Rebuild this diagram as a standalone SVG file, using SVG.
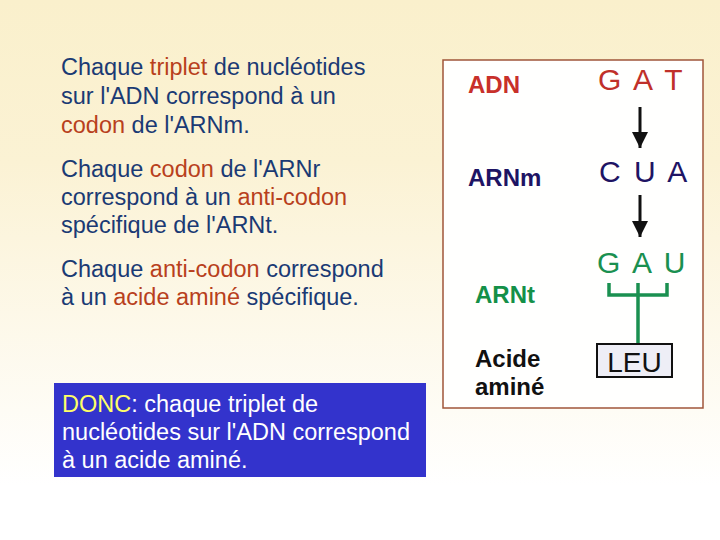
<svg xmlns="http://www.w3.org/2000/svg" width="720" height="540" viewBox="0 0 720 540">
<defs>
<linearGradient id="bg" x1="0" y1="0" x2="0" y2="1">
<stop offset="0" stop-color="#FAF0CC"/>
<stop offset="0.3" stop-color="#FBF2D4"/>
<stop offset="0.9" stop-color="#FFFFFF"/>
<stop offset="1" stop-color="#FFFFFF"/>
</linearGradient>
<marker id="ah" viewBox="0 0 16 16" refX="16" refY="8" markerWidth="16" markerHeight="16" markerUnits="userSpaceOnUse" orient="auto">
<path d="M0,0 L16,8 L0,16 Z" fill="#111"/>
</marker>
<style>
text{font-family:"Liberation Sans",Arial,sans-serif}
.p{font-size:23.5px;fill:#1A3A74}
.em{fill:#B8401C}
.lab{font-size:24px;font-weight:bold}
.cod{font-size:30px;letter-spacing:2.5px}
.w{font-size:23.5px;fill:#FFFFFF}
</style>
</defs>
<rect x="0" y="0" width="720" height="540" fill="url(#bg)"/>
<g id="texts">
<text class="p" x="61" y="75">Chaque <tspan class="em">triplet</tspan> de nucléotides</text>
<text class="p" x="61" y="104">sur l'ADN correspond à un</text>
<text class="p" x="61" y="133"><tspan class="em">codon</tspan> de l'ARNm.</text>
<text class="p" x="61" y="177">Chaque <tspan class="em">codon</tspan> de l'ARNr</text>
<text class="p" x="61" y="205">correspond à un <tspan class="em">anti-codon</tspan></text>
<text class="p" x="61" y="233">spécifique de l'ARNt.</text>
<text class="p" x="61" y="277">Chaque <tspan class="em">anti-codon</tspan> correspond</text>
<text class="p" x="61" y="305">à un <tspan class="em">acide aminé</tspan> spécifique.</text>
</g>
<g id="conclusion">
<rect x="54" y="383" width="372" height="94" fill="#3333CC"/>
<text class="w" x="62" y="412"><tspan fill="#FFFF66">DONC</tspan>: chaque triplet de</text>
<text class="w" x="62" y="440">nucléotides sur l'ADN correspond</text>
<text class="w" x="62" y="468">à un acide aminé.</text>
</g>
<g id="panel">
<rect x="443" y="60" width="260" height="348" fill="#FFFFFE" stroke="#A0553A" stroke-width="1.5"/>
</g>
<g id="labels">
<text class="lab" x="468" y="93" fill="#C8302A">ADN</text>
<text class="lab" x="468" y="186" fill="#1E1464">ARNm</text>
<text class="lab" x="475" y="303" fill="#149048">ARNt</text>
<text class="lab" x="475" y="367" fill="#111">Acide</text>
<text class="lab" x="475" y="395" fill="#111">aminé</text>
</g>
<g id="codons">
<text class="cod" x="598" y="90" fill="#C0302A">G A T</text>
<text class="cod" x="599" y="182" fill="#1E1464">C U A</text>
<text class="cod" x="597" y="273" fill="#1A9050">G A U</text>
</g>
<g id="connectors">
<line x1="640" y1="107" x2="640" y2="148" stroke="#111" stroke-width="3" marker-end="url(#ah)"/>
<line x1="640" y1="195" x2="640" y2="237" stroke="#111" stroke-width="3" marker-end="url(#ah)"/>
<path d="M609,283 V295 H667 V283 M638,283 V344" fill="none" stroke="#1A9050" stroke-width="3.5"/>
</g>
<g id="leu">
<rect x="597" y="344" width="75" height="33" fill="#EEEEF6" stroke="#111" stroke-width="2"/>
<text x="634.5" y="372" font-size="28" text-anchor="middle" fill="#111">LEU</text>
</g>
</svg>
